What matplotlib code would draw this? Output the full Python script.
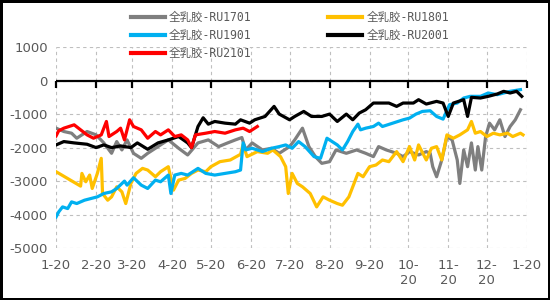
import matplotlib
matplotlib.use("Agg")
import matplotlib.pyplot as plt
import pandas as pd

plt.rcParams['font.family'] = ['Noto Sans CJK SC', 'DejaVu Sans']
plt.rcParams['axes.unicode_minus'] = False

# x values are days after 1-20, y values are the spread
day_1701 = [0, 6, 12, 16, 24, 31, 37, 43, 47, 51, 55, 60, 66, 71, 79, 87, 95, 102, 110, 118,
            126, 133, 139, 144, 147, 152, 160, 167, 173, 181, 185, 191, 196, 201, 206, 212, 217, 225, 233, 240,
            246, 250, 256, 264, 269, 274, 281, 287, 290, 292, 295, 299, 303, 307, 311, 313, 316, 319, 322, 325,
            327, 330, 333, 336, 340, 344, 348, 352, 356, 360]
ru1701 = [-1420, -1520, -1570, -1720, -1520, -1620, -1860, -2170, -1820, -2070, -1770, -2170, -2320, -2170, -1970, -1770, -2020, -2220, -1860, -1770,
          -1970, -1860, -1770, -1700, -2070, -1860, -2070, -2020, -2170, -1970, -1770, -1420, -1970, -2270, -2470, -2420, -2070, -2170, -2070, -2170,
          -2270, -1970, -2070, -2170, -2270, -2120, -2220, -2120, -2170, -2570, -2870, -2370, -1670, -1770, -2370, -3070, -2070, -2570, -1860, -2670,
          -1970, -2670, -1670, -1270, -1470, -1170, -1670, -1370, -1170, -870]

day_1801 = [0, 19, 20, 23, 26, 28, 32, 35, 36, 40, 43, 47, 51, 54, 58, 62, 67, 71, 77, 81,
            87, 91, 95, 100, 105, 110, 116, 120, 127, 135, 143, 145, 148, 156, 164, 168, 174, 178, 180, 183,
            187, 191, 197, 202, 207, 212, 218, 222, 227, 231, 234, 238, 243, 248, 253, 258, 264, 269, 274, 278,
            281, 287, 291, 295, 299, 303, 308, 313, 319, 322, 325, 329, 334, 339, 344, 350, 354, 360, 362]
ru1801 = [-2720, -3150, -2770, -3020, -2820, -3220, -2770, -2320, -3370, -3570, -3470, -3170, -3320, -3670, -3070, -2770, -2620, -2670, -2870, -2720,
          -2570, -3270, -2970, -2920, -2770, -2670, -2720, -2570, -2420, -2370, -2200, -1900, -2270, -2120, -2170, -2070, -2270, -2570, -3370, -2770,
          -3070, -3170, -3370, -3770, -3470, -3570, -3670, -3720, -3470, -3070, -2770, -2870, -2570, -2520, -2370, -2420, -2120, -2420, -1970, -2370,
          -1920, -2370, -2020, -1970, -2370, -1620, -1720, -1620, -1470, -1220, -1570, -1520, -1670, -1570, -1620, -1570, -1670, -1570, -1620]

day_1901 = [0, 2, 5, 9, 12, 16, 22, 27, 32, 37, 43, 47, 53, 55, 60, 66, 71, 77, 81, 87,
            89, 92, 97, 102, 110, 116, 123, 131, 139, 143, 145, 147, 152, 160, 167, 173, 178, 183, 188, 193,
            200, 205, 210, 218, 222, 226, 230, 234, 236, 240, 246, 250, 253, 261, 269, 274, 279, 284, 290, 295,
            300, 305, 311, 316, 321, 329, 335, 342, 347, 352, 360]
ru1901 = [-4070, -3920, -3770, -3820, -3620, -3670, -3570, -3520, -3470, -3370, -3320, -3220, -3000, -3120, -2900, -3120, -3220, -2970, -3020, -2820,
          -3370, -2820, -2770, -2820, -2620, -2770, -2820, -2770, -2720, -2670, -1860, -2070, -2020, -2120, -2020, -1970, -1920, -2020, -1820, -1970,
          -2270, -2320, -1720, -1920, -2070, -1820, -1520, -1300, -1470, -1420, -1370, -1270, -1370, -1270, -1170, -1120, -1000, -920, -900, -1070,
          -1150, -720, -670, -520, -470, -470, -370, -420, -370, -320, -270]

day_2001 = [0, 6, 14, 24, 31, 37, 43, 50, 58, 63, 71, 79, 87, 95, 102, 105, 110, 114, 118, 123,
            131, 139, 143, 150, 154, 162, 169, 173, 181, 185, 192, 198, 206, 212, 218, 225, 230, 235, 240, 246,
            258, 264, 269, 277, 281, 287, 295, 300, 304, 308, 316, 319, 322, 329, 335, 342, 347, 352, 357, 361]
ru2001 = [-1920, -1820, -1860, -1900, -2000, -1920, -2000, -1950, -2000, -1860, -2050, -1860, -1770, -1670, -1860, -2000, -1370, -1110, -1300, -1220,
          -1270, -1300, -1170, -1270, -1170, -1070, -770, -1000, -1170, -1070, -920, -1070, -1070, -1000, -1220, -1000, -1170, -970, -870, -670,
          -670, -770, -670, -670, -570, -700, -620, -670, -1070, -670, -570, -1070, -500, -520, -470, -400, -320, -370, -320, -470]

day_2101 = [0, 2, 6, 14, 19, 24, 29, 35, 39, 41, 47, 50, 53, 57, 60, 66, 71, 77, 81, 87,
            92, 97, 102, 105, 108, 116, 123, 131, 139, 145, 150, 156]
ru2101 = [-1650, -1500, -1420, -1320, -1470, -1620, -1720, -1620, -1220, -1670, -1520, -1420, -1770, -1170, -1370, -1470, -1720, -1520, -1620, -1470,
          -1670, -1620, -1770, -2000, -1620, -1570, -1520, -1570, -1470, -1420, -1520, -1370]

series = [
    ("全乳胶-RU1701", day_1701, ru1701, "#7F7F7F"),
    ("全乳胶-RU1801", day_1801, ru1801, "#FFC000"),
    ("全乳胶-RU1901", day_1901, ru1901, "#00B0F0"),
    ("全乳胶-RU2001", day_2001, ru2001, "#000000"),
    ("全乳胶-RU2101", day_2101, ru2101, "#FF0000"),
]

start = pd.Timestamp("2019-01-20")
month_ticks = pd.date_range("2019-01-20", "2020-01-20", freq=pd.DateOffset(months=1))
tick_labels = ["1-20", "2-20", "3-20", "4-20", "5-20", "6-20", "7-20", "8-20", "9-20",
               "10-\n20", "11-\n20", "12-\n20", "1-20"]
y_ticks = [1000, 0, -1000, -2000, -3000, -4000, -5000]

fig = plt.figure(figsize=(5.5, 3.0), dpi=100)
fig.patch.set_edgecolor("black")
fig.patch.set_linewidth(2.5)
ax = fig.add_axes([0.102, 0.173, 0.856, 0.67])

lines = {}
for name, d, v, c in series:
    x = start + pd.to_timedelta(d, unit="D")
    ln, = ax.plot(x, v, color=c, lw=2.3, label=name, solid_joinstyle="round")
    lines[name] = ln

ax.set_xlim(month_ticks[0], month_ticks[-1])
ax.set_ylim(-5000, 1000)
ax.set_yticks(y_ticks)
ax.set_yticklabels([str(t) for t in y_ticks])
ax.set_xticks(month_ticks)
ax.set_xticklabels(tick_labels)
ax.tick_params(axis="both", length=0, labelsize=9.5, labelcolor="#595959")
ax.tick_params(axis="x", pad=8)
ax.tick_params(axis="y", pad=6)
for lab in ax.get_xticklabels() + ax.get_yticklabels():
    lab.set_family(["DejaVu Sans"])
for s in ax.spines.values():
    s.set_visible(False)
ax.grid(True, color="#BFBFBF", linestyle=(0, (3, 3)), linewidth=0.8)
ax.set_axisbelow(True)

# zero axis line with downward tick marks
ax.axhline(0, color="black", lw=1.6, zorder=1)
ax.plot(month_ticks, [0] * len(month_ticks), linestyle="none", marker=3,
        markersize=5, markeredgewidth=1.6, color="black", clip_on=False, zorder=1)

order = ["全乳胶-RU1701", "全乳胶-RU1901", "全乳胶-RU2101", "全乳胶-RU1801", "全乳胶-RU2001"]
leg = fig.legend([lines[n] for n in order], order, ncol=2, loc="upper center",
                 bbox_to_anchor=(0.527, 1.0), frameon=False,
                 prop={"family": ["DejaVu Sans Mono", "Noto Sans CJK SC"], "size": 8.3},
                 handlelength=3.0, handletextpad=0.35, columnspacing=6.6,
                 labelspacing=0.42, borderpad=0.45)
for t in leg.get_texts():
    t.set_color("#595959")
for h in leg.get_lines():
    h.set_linewidth(3)

fig.savefig("out.png", dpi=100, edgecolor=fig.get_edgecolor())
